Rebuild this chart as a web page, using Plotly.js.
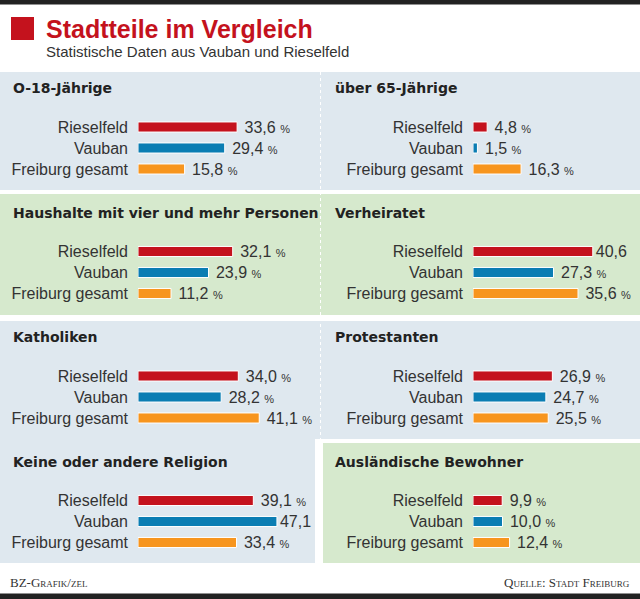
<!DOCTYPE html>
<html><head><meta charset="utf-8">
<script src="https://cdn.plot.ly/plotly-3.0.1.min.js"></script>
<style>html,body{margin:0;padding:0;background:#fff}#chart{width:640px;height:599px}</style>
</head><body><div id="chart"></div>
<script>
// ---- data ----
const categories = ['Rieselfeld', 'Vauban', 'Freiburg gesamt'];
const panelTitles = ['O-18-Jährige', 'über 65-Jährige', 'Haushalte mit vier und mehr Personen', 'Verheiratet',
                     'Katholiken', 'Protestanten', 'Keine oder andere Religion', 'Ausländische Bewohner'];
const rieselfeld = [33.6, 4.8, 32.1, 40.6, 34.0, 26.9, 39.1, 9.9];
const vauban     = [29.4, 1.5, 23.9, 27.3, 28.2, 24.7, 47.1, 10.0];
const freiburg   = [15.8, 16.3, 11.2, 35.6, 41.1, 25.5, 33.4, 12.4];
const hidePercent = [[3, 0], [6, 1]]; // [panel, bar] labels printed without "%"
const chartTitle = 'Stadtteile im Vergleich';
const chartSubtitle = 'Statistische Daten aus Vauban und Rieselfeld';
const creditText = 'BZ-Grafik/zel';
const sourceText = 'Quelle: Stadt Freiburg';

// ---- layout helpers ----
const W = 640, H = 599;
const fx = x => x / W, fy = y => 1 - y / H;
const barColors = ['#c4121d', '#0a7db3', '#f7951e'];
const blue = '#dfe8ef', green = '#d6e9cd';
const PX_PER_UNIT = 2.95, XMAX = 55;
const ROW_PITCH = 124.5;

function fmt(v, pct) {
  const s = v.toFixed(1).replace('.', ',');
  return pct ? ' ' + s + ' <span style="font-size:11px">%</span>' : s;
}

const traces = [];
const layout = {
  width: W, height: H,
  margin: {l: 0, r: 0, t: 0, b: 0},
  paper_bgcolor: '#ffffff', plot_bgcolor: 'rgba(0,0,0,0)',
  showlegend: false,
  shapes: [], annotations: [],
  font: {family: 'Liberation Sans, Arial, sans-serif', color: '#333'}
};

// backgrounds
function rect(x0, y0, x1, y1, color) {
  layout.shapes.push({type: 'rect', xref: 'paper', yref: 'paper', layer: 'below',
    x0: fx(x0), x1: fx(x1), y0: fy(y1), y1: fy(y0), fillcolor: color, line: {width: 0}});
}
rect(0, 0, 640, 4.5, '#222');
rect(0, 593.5, 640, 599, '#222');
rect(11, 17, 34, 40, '#c4121d');
rect(0, 72, 640, 190, blue);
rect(0, 194, 640, 315, green);
rect(0, 321, 640, 439, blue);
rect(0, 439, 315, 563, blue);
rect(323, 443, 640, 563, green);
layout.shapes.push({type: 'line', xref: 'paper', yref: 'paper', layer: 'below',
  x0: fx(320.5), x1: fx(320.5), y0: fy(72), y1: fy(439), line: {color: '#ffffff', width: 1, dash: 'dot'}});

// titles
layout.annotations.push({xref: 'paper', yref: 'paper', x: fx(44), y: fy(29), xanchor: 'left', yanchor: 'middle',
  text: chartTitle, showarrow: false, font: {family: 'Liberation Sans, Arial, sans-serif', size: 25, weight: 'bold', color: '#c4121d'}});
layout.annotations.push({xref: 'paper', yref: 'paper', x: fx(44), y: fy(52), xanchor: 'left', yanchor: 'middle',
  text: chartSubtitle, showarrow: false, font: {family: 'Liberation Sans, Arial, sans-serif', size: 15, color: '#333'}});
layout.annotations.push({xref: 'paper', yref: 'paper', x: fx(8), y: fy(582), xanchor: 'left', yanchor: 'middle',
  text: creditText, showarrow: false, font: {family: 'Liberation Serif, serif', size: 13, variant: 'small-caps', color: '#333'}});
layout.annotations.push({xref: 'paper', yref: 'paper', x: fx(632), y: fy(582), xanchor: 'right', yanchor: 'middle',
  text: sourceText, showarrow: false, font: {family: 'Liberation Serif, serif', size: 13, variant: 'small-caps', color: '#333'}});

for (let i = 0; i < 8; i++) {
  const col = i % 2, row = Math.floor(i / 2);
  const n = i + 1;
  const xa = n === 1 ? 'x' : 'x' + n, ya = n === 1 ? 'y' : 'y' + n;
  const xName = n === 1 ? 'xaxis' : 'xaxis' + n, yName = n === 1 ? 'yaxis' : 'yaxis' + n;
  const x0 = col ? 473 : 138;
  const c = 127 + ROW_PITCH * row;
  const vals = [rieselfeld[i], vauban[i], freiburg[i]];
  const texts = vals.map((v, j) => fmt(v, !hidePercent.some(h => h[0] === i && h[1] === j)));
  traces.push({
    type: 'bar', orientation: 'h', x: vals, y: categories, xaxis: xa, yaxis: ya,
    width: 0.48,
    marker: {color: barColors, line: {color: '#ffffff', width: 1}},
    text: texts, textposition: 'outside', constraintext: 'none', cliponaxis: false,
    textfont: {family: 'Liberation Sans, Arial, sans-serif', size: 16, color: '#333'},
    hoverinfo: 'skip'
  });
  layout[xName] = {domain: [fx(x0), fx(x0 + XMAX * PX_PER_UNIT)], range: [0, XMAX], anchor: ya,
    showgrid: false, zeroline: false, showline: false, showticklabels: false, fixedrange: true};
  layout[yName] = {domain: [fy(c + 52.5), fy(c - 10.5)], type: 'category', categoryarray: categories,
    range: [2.5, -0.5], anchor: xa, showgrid: false, zeroline: false, showline: false, ticks: '',
    ticklabelstandoff: 9, fixedrange: true,
    tickfont: {family: 'Liberation Sans, Arial, sans-serif', size: 16, color: '#333'}};
  // panel title
  layout.annotations.push({xref: 'paper', yref: 'paper', x: fx(col ? 333 : 11), y: fy(88 + ROW_PITCH * row),
    xanchor: 'left', yanchor: 'middle', text: panelTitles[i], showarrow: false,
    font: {family: 'DejaVu Sans, sans-serif', size: 14, weight: 'bold', color: '#222'}});
}

Plotly.newPlot('chart', traces, layout, {displayModeBar: false, staticPlot: true});
</script></body></html>
